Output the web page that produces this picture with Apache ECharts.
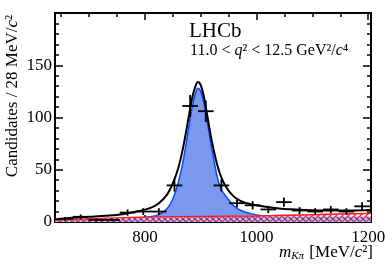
<!DOCTYPE html>
<html><head><meta charset="utf-8">
<script src="https://cdn.jsdelivr.net/npm/echarts@6/dist/echarts.min.js"></script>
<style>html,body{margin:0;padding:0;background:#fff}#c{width:392px;height:266px}</style>
</head><body><div id="c"></div>
<script>
// ---- data ----
const binCenters = [657,685,713,741,769,797,825,853,881,909,937,965,993,1021,1049,1077,1105,1133,1161,1189];
const binCounts  = [3,5,2,2,9,10,10,35,111,106,35,18,16,12,19,11,10,12,10,15];
const binErrors  = [1.7,2.2,1.4,1.4,3,3.2,3.2,5.9,10.5,10.3,5.9,4.2,4,3.5,4.4,3.3,3.2,3.5,3.2,3.9];
const binHalfWidth = 14;

const curveX   = [639,670,700,730,760,790,810,825,840,850,860,868,876,884,890,895,900,906,912,920,928,936,946,958,972,990,1010,1040,1070,1100,1140,1170,1205];
const totalFit = [2.5,4,5,6,7.5,10.5,13.5,18,26.5,37,52,70,93,117,129,134,131,119,101,77,58,44,33,25,20,17,15,13,12,11.3,10.9,11,11.5];
const signalFit= [1,1.2,1.5,2,2.5,3.8,5,7,13,22,38,57,82,108,122,128,125,113,95,70,47,32,24,16,11,8,6,4.5,3.8,3.2,2.7,2.4,2.1];

const bandX     = [639,700,760,820,900,1000,1050,1100,1150,1205];
const sWaveTop  = [1.5,3,4,4.8,5.2,5.6,6.3,7,7.6,8.2];
const combTop   = [1.2,2.5,3.6,4.5,4.9,5.1,5.15,5.2,5.25,5.3];

const xMajor = [800,1000,1200];
const xMinor = [650,700,750,850,900,950,1050,1100,1150];
const yLabels = [0,50,100,150];

// ---- build ----
function zip(a,b){return a.map((v,i)=>[v,b[i]]);}
function makePattern(bg, lines){
  const s=6, cv=document.createElement('canvas'); cv.width=s; cv.height=s;
  const g=cv.getContext('2d'); g.fillStyle=bg; g.fillRect(0,0,s,s);
  lines.forEach(l=>{
    g.strokeStyle=l.c; g.lineWidth=1.3; g.beginPath();
    if(l.d==='/'){ g.moveTo(-1,s+1); g.lineTo(s+1,-1); g.moveTo(-1,1); g.lineTo(1,-1); g.moveTo(s-1,s+1); g.lineTo(s+1,s-1);}
    else { g.moveTo(-1,-1); g.lineTo(s+1,s+1); g.moveTo(s-1,-1); g.lineTo(s+1,1); g.moveTo(-1,s-1); g.lineTo(1,s+1);}
    g.stroke();
  });
  return {image:cv, repeat:'repeat'};
}
const redPat = makePattern('#ffffff',[{c:'#ff2a2a',d:'/'}]);
const crossPat = makePattern('#f0b8cc',[{c:'#ff3030',d:'/'},{c:'#2a4de8',d:'\\'}]);

const FONT='Liberation Serif';
const chart = echarts.init(document.getElementById('c'),null,{renderer:'canvas'});
const axLine={show:true,lineStyle:{color:'#000',width:2}};
const noLab={show:false};
const baseX={type:'value',min:639,max:1205,splitLine:{show:false},gridIndex:0};
const baseY={type:'value',min:0,max:200,interval:50,splitLine:{show:false},gridIndex:0};
chart.setOption({
  animation:false,
  grid:{left:55,right:21,top:13,bottom:44},
  xAxis:[
    Object.assign({},baseX,{position:'bottom',axisLine:axLine,
      axisTick:{show:true,inside:true,length:7,customValues:xMajor,lineStyle:{color:'#000',width:1.5}},
      axisLabel:{customValues:xMajor,formatter:v=>String(v),color:'#000',fontFamily:FONT,fontSize:17,margin:7}}),
    Object.assign({},baseX,{position:'bottom',axisLine:{show:false},
      axisTick:{show:true,inside:true,length:4,customValues:xMinor,lineStyle:{color:'#000',width:1.5}},axisLabel:noLab}),
    Object.assign({},baseX,{position:'top',axisLine:axLine,
      axisTick:{show:true,inside:true,length:7,customValues:xMajor,lineStyle:{color:'#000',width:1.5}},axisLabel:noLab}),
    Object.assign({},baseX,{position:'top',axisLine:{show:false},
      axisTick:{show:true,inside:true,length:4,customValues:xMinor,lineStyle:{color:'#000',width:1.5}},axisLabel:noLab})
  ],
  yAxis:[
    Object.assign({},baseY,{position:'left',axisLine:axLine,
      axisTick:{show:true,inside:true,length:8,lineStyle:{color:'#000',width:1.5}},
      minorTick:{show:true,splitNumber:5,length:4,lineStyle:{color:'#000',width:1.5}},
      axisLabel:{customValues:yLabels,formatter:v=>String(v),color:'#000',fontFamily:FONT,fontSize:17,margin:3}}),
    Object.assign({},baseY,{position:'right',axisLine:axLine,
      axisTick:{show:true,inside:true,length:8,lineStyle:{color:'#000',width:1.5}},
      minorTick:{show:true,splitNumber:5,length:4,lineStyle:{color:'#000',width:1.5}},
      axisLabel:noLab})
  ],
  series:[
    {type:'line',data:zip(curveX,signalFit),smooth:0.35,symbol:'none',z:2,
     lineStyle:{color:'#1144ff',width:1.5},areaStyle:{color:'#7b98ef',opacity:1}},
    {type:'line',data:zip(bandX,sWaveTop),smooth:0.3,symbol:'none',z:3,
     lineStyle:{color:'#ff1a1a',width:1.6},areaStyle:{color:redPat,opacity:1}},
    {type:'line',data:zip(bandX,combTop),smooth:0.3,symbol:'none',z:4,
     lineStyle:{width:0},areaStyle:{color:crossPat,opacity:1}},
    {type:'line',data:zip(curveX,totalFit),smooth:0.35,symbol:'none',z:5,
     lineStyle:{color:'#000',width:2}},
    {type:'custom',z:6,
     data:binCenters.map((x,i)=>[x,binCounts[i],binErrors[i]]),
     renderItem:function(params,api){
       const x=api.value(0),y=api.value(1),e=api.value(2);
       const l=api.coord([x-binHalfWidth,y]),r=api.coord([x+binHalfWidth,y]);
       const t=api.coord([x,y+e]),b=api.coord([x,Math.max(0,y-e)]);
       const st={stroke:'#000',lineWidth:1.8};
       return {type:'group',children:[
         {type:'line',shape:{x1:l[0],y1:l[1],x2:r[0],y2:r[1]},style:st},
         {type:'line',shape:{x1:t[0],y1:t[1],x2:b[0],y2:b[1]},style:st}
       ]};
     }}
  ],
  graphic:[
    {type:'text',left:189,top:21,style:{text:'LHCb',font:'21px "Liberation Serif"',fill:'#000'}},
    {type:'text',left:190,top:43,style:{
      text:'{n|11.0 < }{i|q}{n|² < 12.5 GeV²/}{i|c}{n|⁴}',
      rich:{n:{fontFamily:FONT,fontSize:16,fill:'#000'},i:{fontFamily:FONT,fontSize:16,fontStyle:'italic',fill:'#000'}}}},
    {type:'text',x:13,y:96,rotation:Math.PI/2,style:{
      text:'{n|Candidates / 28 MeV/}{i|c}{n|²}',align:'center',verticalAlign:'middle',
      rich:{n:{fontFamily:FONT,fontSize:17,fill:'#000'},i:{fontFamily:FONT,fontSize:17,fontStyle:'italic',fill:'#000'}}}},
    {type:'text',right:19,top:244,style:{
      text:'{i|m}{s|Kπ}{n| [MeV/}{i|c}{n|²]}',
      rich:{n:{fontFamily:FONT,fontSize:17,fill:'#000'},i:{fontFamily:FONT,fontSize:17,fontStyle:'italic',fill:'#000'},
            s:{fontFamily:FONT,fontSize:11,fontStyle:'italic',fill:'#000',padding:[8,1,0,0]}}}}
  ]
});
</script></body></html>
